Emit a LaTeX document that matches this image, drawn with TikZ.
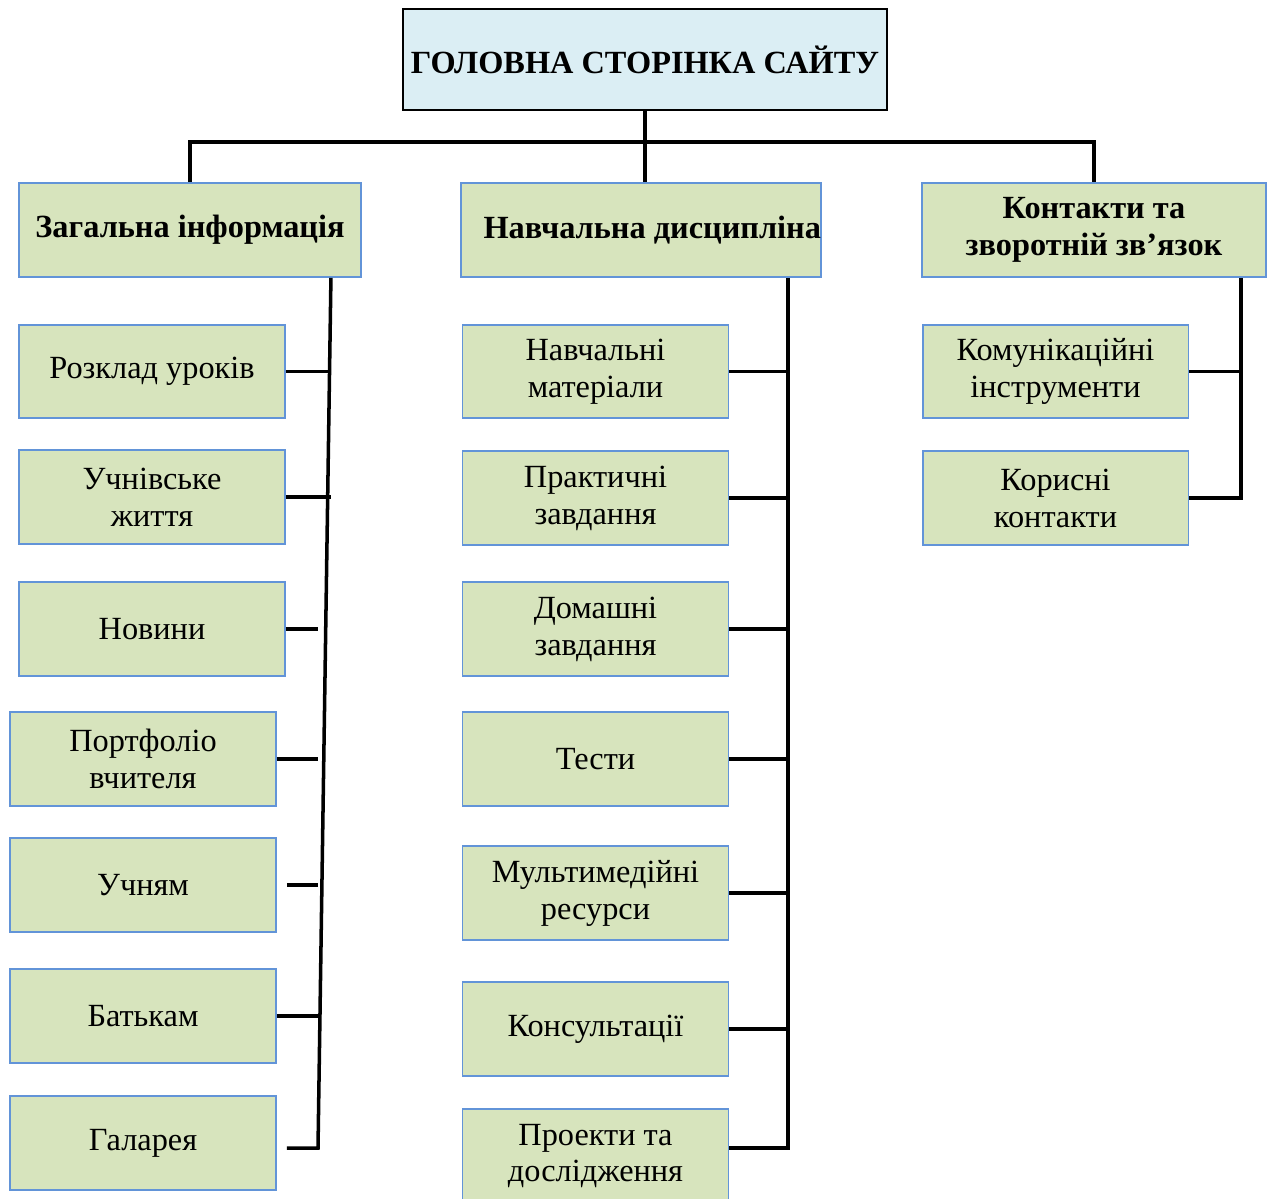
\documentclass[tikz,border=0pt]{standalone}
\usepackage{fontspec}
\setmainfont{Liberation Serif}
\usepackage{xcolor}
\usetikzlibrary{calc}
\definecolor{rootblue}{RGB}{219,238,244}
\definecolor{boxgreen}{RGB}{215,228,189}
\definecolor{boxline}{RGB}{98,148,216}

\begin{document}
\begin{tikzpicture}[x=0.02cm, y=-0.02cm, line width=2pt]
	\tikzstyle{box}=[draw=boxline, fill=boxgreen, line width=1.1pt, inner sep=0pt, minimum width=5.32cm, minimum height=1.87cm, align=center, font=\fontsize{18.4}{21}\selectfont]
	\tikzstyle{head}=[box, minimum height=1.88cm, font=\fontsize{18.4}{21}\selectfont\bfseries]
	\useasboundingbox (0,0) rectangle (1267,1198);
	
	\node(root)[draw=black, fill=rootblue, line width=1.1pt, minimum width=9.68cm, minimum height=2.02cm, font=\fontsize{18.4}{21}\selectfont\bfseries] at (645,59.5) {ГОЛОВНА СТОРІНКА САЙТУ};
	
	\node(gen)[head, minimum width=6.84cm] at (190,230) {Загальна інформація};
	\node(nav)[head, minimum width=7.16cm] at (641,230) {\hspace*{0.45cm}Навчальна дисципліна};
	\node(con)[head, minimum width=6.88cm] at (1094,230) {Контакти та\\зворотній зв’язок};
	
	\node(rozklad)[box] at (152,371.5) {Розклад уроків};
	\node(zhyttia)[box] at (152,497) {Учнівське\\життя};
	\node(novyny)[box] at (152,629) {Новини};
	\node(portfolio)[box] at (143,759) {Портфоліо\\вчителя};
	\node(uchniam)[box] at (143,885) {Учням};
	\node(batkam)[box] at (143,1016) {Батькам};
	\node(galareya)[box] at (143,1143) {Галарея};
	
	\node(materialy)[box] at (595.5,371.5) {Навчальні\\матеріали};
	\node(praktychni)[box] at (595.5,498) {Практичні\\завдання};
	\node(domashni)[box] at (595.5,629) {Домашні\\завдання};
	\node(testy)[box] at (595.5,759) {Тести};
	\node(multimedia)[box] at (595.5,893) {Мультимедійні\\ресурси};
	\node(konsultatsii)[box] at (595.5,1029) {Консультації};
	\node(proekty)[box] at (595.5,1156) {Проекти та\\дослідження};
	
	\node(komunik)[box] at (1055.5,371.5) {Комунікаційні\\інструменти};
	\node(korysni)[box] at (1055.5,498) {Корисні\\контакти};
	
	\coordinate(bus) at ($(root.south)+(0,31)$);
	\draw (root.south) -- (root.south |- nav.north);
	\draw (gen.north) |- (bus) -| (con.north);
	
	\coordinate(gtop) at ($(gen.south east)+(-31,0)$);
	\coordinate(gbot) at (318,1148);
	\draw (gtop) -- (gbot) -- ($(galareya.east)+(10,5)$);
	\draw (rozklad.east) -- (rozklad.east -| gtop);
	\draw (zhyttia.east) -- (zhyttia.east -| gtop);
	\draw (novyny.east) -- (novyny.east -| gbot);
	\draw (portfolio.east) -- (portfolio.east -| gbot);
	\draw ($(uchniam.east)+(10,0)$) -- (uchniam.east -| gbot);
	\draw (batkam.east) -- (batkam.east -| gbot);
	
	\coordinate(ntop) at ($(nav.south east)+(-34,0)$);
	\draw (ntop) |- ($(proekty.east)+(0,-8)$);
	\draw (materialy.east) -- (materialy.east -| ntop);
	\draw (praktychni.east) -- (praktychni.east -| ntop);
	\draw (domashni.east) -- (domashni.east -| ntop);
	\draw (testy.east) -- (testy.east -| ntop);
	\draw (multimedia.east) -- (multimedia.east -| ntop);
	\draw (konsultatsii.east) -- (konsultatsii.east -| ntop);
	
	\coordinate(ctop) at ($(con.south east)+(-26,0)$);
	\draw (ctop) |- (korysni.east);
	\draw (komunik.east) -- (komunik.east -| ctop);
\end{tikzpicture}
\end{document}
